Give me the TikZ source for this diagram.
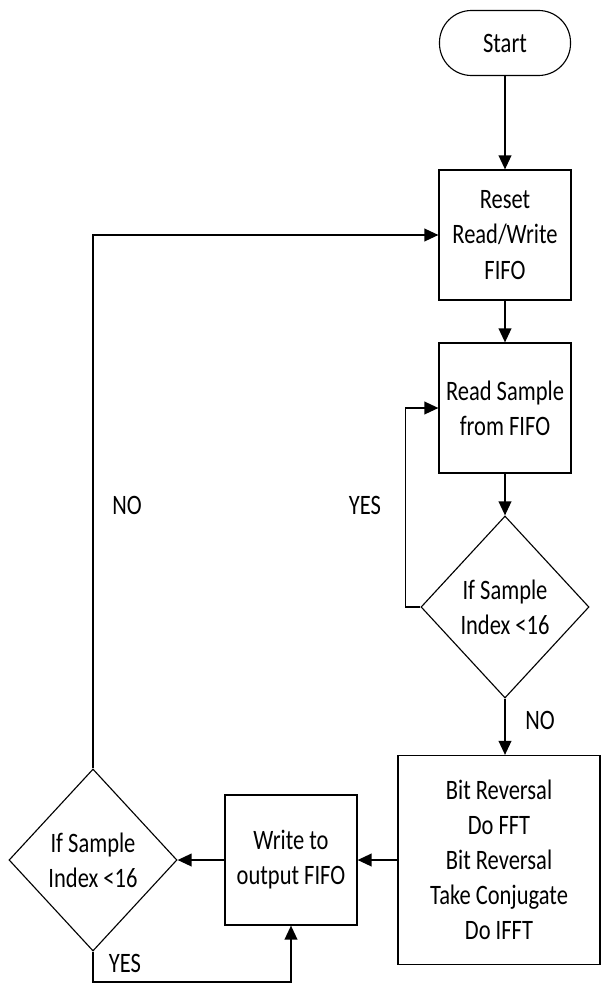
\documentclass[tikz,border=0pt]{standalone}
\usepackage{fontspec}
\setmainfont{Carlito}[FakeStretch=0.8]
\usetikzlibrary{shapes.geometric, arrows.meta}
\begin{document}
\begin{tikzpicture}[
    x=0.025cm, y=-0.025cm,
    every node/.style={font=\fontsize{20}{25}\selectfont},
    box/.style={
        rectangle,
        draw,
        line width=0.8pt,
        minimum width=3.3cm,
        minimum height=3.25cm,
        align=center,
        inner sep=2pt
    },
    decision/.style={
        diamond,
        draw,
        line width=0.8pt,
        minimum width=4.2cm,
        minimum height=4.55cm,
        align=center,
        inner sep=0pt
    },
    terminal/.style={
        rectangle,
        rounded corners=0.8cm,
        draw,
        line width=0.8pt,
        minimum width=3.275cm,
        minimum height=1.625cm
    },
    flow/.style={line width=1.3pt, -{Triangle[length=10pt,width=9pt]}}
]

\useasboundingbox (0,0) rectangle (608,984);

\node[terminal] (start) at (505,43) {Start};
\node[box] (reset) at (505,235) {Reset\\Read/Write\\FIFO};
\node[box] (read) at (505,408) {Read Sample\\from FIFO};
\node[decision] (check) at (505,607) {If Sample\\Index <16};
\node[box, minimum width=5.05cm, minimum height=5.225cm] (fft) at (499,860)
    {Bit Reversal\\Do FFT\\Bit Reversal\\Take Conjugate\\Do IFFT};
\node[box] (write) at (291,860) {Write to\\output FIFO};
\node[decision] (last) at (93,860) {If Sample\\Index <16};

\draw[flow] (start) -- (reset);
\draw[flow] (reset) -- (read);
\draw[flow] (read) -- (check);
\draw[flow] (check.west) -- ++(-15,0) |- (read.west);
\draw[flow] (check.south) -- (check.south |- fft.north);
\draw[flow] (fft.west) -- (write.east);
\draw[flow] (write.west) -- (last.east);
\draw[flow] (last.south) -- ++(0,30) -| (write.south);
\draw[flow] (last.north) |- (reset.west);

\node (yesloop) at (365,505) {YES};
\node (noloop) at (127,505) {NO};
\node (nofft) at (540,720) {NO};
\node (yesout) at (125,963) {YES};

\end{tikzpicture}
\end{document}
